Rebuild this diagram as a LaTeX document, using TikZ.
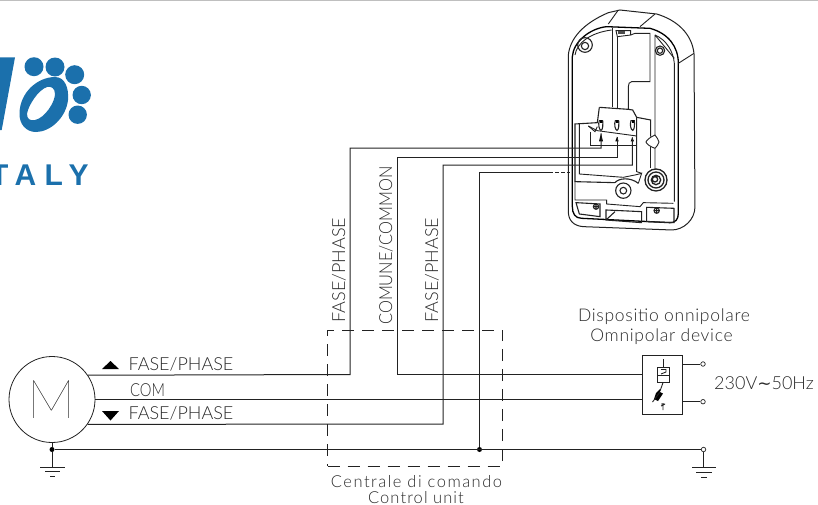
\documentclass[tikz,border=0pt]{standalone}
\usepackage{fontspec}
\setmainfont{Lato Light}
\newfontfamily\boldf{Liberation Sans Bold}
\newfontfamily\hairf{Lato Hairline}
\newfontfamily\symf{DejaVu Sans}
\definecolor{logob}{HTML}{1B70AC}
\definecolor{ink}{HTML}{222222}
\definecolor{txt}{HTML}{2A2A2A}
\tikzset{
 wire/.style={draw=ink,line width=1pt},
 dev/.style={draw=ink,line width=0.9pt},
 devthick/.style={draw=black,line width=1.3pt},
 cad/.style={text=txt,font=\fontsize{18}{18}\selectfont,inner sep=0pt},
 cadb/.style={text=txt,font=\fontsize{17.5}{17.5}\selectfont\addfontfeature{LetterSpace=4},inner sep=0pt},
 term/.style={circle,draw=ink,line width=0.7pt,fill=white,minimum size=4.5pt,inner sep=0pt},
 junction/.style={circle,fill=black,minimum size=5pt,inner sep=0pt},
 tri/.style={fill=black,draw=none}
}
\begin{document}
\begin{tikzpicture}[x=1pt,y=-1pt]
\useasboundingbox (0,0) rectangle (818,504);
\clip (0,0) rectangle (818,504);
\draw[draw=black!25,line width=1.2pt] (0,0.4) -- (818,0.4);
% logo
\fill[logob] (0,57.3) -- (15,57.3) -- (1.7,130) -- (0,130) -- cycle;
\fill[logob,even odd rule] (19.5,113) .. controls (20,92) and (38,77) .. (55,77) .. controls (65,77) and (69,88) .. (68,100) .. controls (66,118) and (50,132) .. (36,132) .. controls (26,132) and (19,124) .. (19.5,113) -- cycle
 (27,114) .. controls (27,119) and (30,121) .. (35,120) .. controls (45,118) and (55,102) .. (55,94) .. controls (55,88) and (51,86) .. (47,87) .. controls (38,90) and (28,106) .. (27,114) -- cycle;
\foreach \px/\py/\pr in {34/66.7/9.5,55/67/9.5,74.7/74.7/9.5,81.7/95/9.2,77.7/114.7/9.2}
  \fill[logob] (\px,\py) circle (\pr);
\node[text=logob,anchor=base west,inner sep=0pt,font=\boldf\fontsize{30}{30}\selectfont] (italy) at (-10,185) {\addfontfeature{LetterSpace=28}TALY};
% motor
\node[circle,draw=ink,line width=0.8pt,minimum size=86pt,inner sep=0pt,text=black,font=\hairf\fontsize{54}{54}\selectfont] (motor) at (52,399.5) {M};
\coordinate (gndm) at (52,449.5);
\node[junction] (jm) at (gndm) {};
\node[junction] (jc) at (479.5,449.5) {};
% dashed control unit
\node[draw=ink,line width=0.9pt,dash pattern=on 12pt off 8pt,minimum width=175pt,minimum height=136pt,inner sep=0pt] (unit) at (415,398) {};
\node[cad,anchor=base,font=\fontsize{16.5}{16.5}\selectfont\addfontfeature{LetterSpace=9}] (l1) at (416.5,487) {Centrale di comando};
\node[cad,anchor=base,font=\fontsize{16.5}{16.5}\selectfont\addfontfeature{LetterSpace=6.5}] (l2) at (416,503) {Control unit};
% omnipolar
\node[draw=ink,line width=0.9pt,minimum width=40pt,minimum height=59pt,inner sep=0pt] (omni) at (662,384.5) {};
\node[cadb] (l3) at (664,317) {Dispositio onnipolare};
\node[cadb] (l4) at (661.5,337) {Omnipolar device};
\node[term] (t1) at (703,364) {};
\node[term] (t2) at (703,401.7) {};
\node[term] (t3) at (703.5,449.5) {};
\node[cad,anchor=west] (vlt) at (714,383) {230V{\symf\fontsize{17}{17}\selectfont ∼}50Hz};
\draw[wire] (omni.east |- t1) -- (t1);
\draw[wire] (omni.east |- t2) -- (t2);
% breaker symbol
\draw[dev] (663,359) -- (663,368);
\draw[dev] (657,367.7) rectangle (669,382.7);
\draw[dev] (657,375) -- (669,375);
\draw[dev] (661,369.5) -- (666,369.5) -- (666,372) -- (661,374);
\draw[dev] (663,382.7) -- (660,391);
\fill[black] (656,393) -- (660,389) -- (660,392) -- (663,393.5) -- (658,401) -- (654,399) -- cycle;
\draw[dev] (652.5,402) -- (660,392);
\draw[dev] (663,403) -- (663,410) (661,404) -- (665,404) (661,406) -- (665,404);
% labels
\node[cad] (p1) at (181,364) {FASE/PHASE};
\node[cad,anchor=west,xscale=.82] (c0) at (130,390) {COM};
\node[cad] (p2) at (181,413.5) {FASE/PHASE};
\fill[tri] (102,369) -- (119,369) -- (110.5,361) -- cycle;
\fill[tri] (102,411) -- (119,411) -- (110.5,420.5) -- cycle;
\node[cad,rotate=90] (v1) at (339,270) {FASE/PHASE};
\node[cad,rotate=90,xscale=.91] (v2) at (386,245.5) {COMUNE/COMMON};
\node[cad,rotate=90] (v3) at (432,270) {FASE/PHASE};
% device (zoom coordinates)
\begin{scope}[shift={(540,0)},x=0.3333pt,y=-0.3333pt]
\coordinate (a1) at (183,400);
\coordinate (a2) at (231,412);
\coordinate (a3) at (277,412);
\coordinate (a4) at (90,518);
\draw[dev,line width=1pt] (85,165) .. controls (90,115) and (130,70) .. (205,38) -- (240,30) -- (350,42) .. controls (410,60) and (455,100) .. (462,160) -- (465,620) .. controls (465,660) and (430,690) .. (395,690) -- (130,680) .. controls (100,678) and (85,660) .. (85,635) -- cycle;
\draw[devthick] (97,170) .. controls (100,125) and (150,85) .. (200,80) -- (330,85) .. controls (385,100) and (415,140) .. (415,190) -- (415,640) .. controls (415,660) and (405,668) .. (390,668) -- (125,655) .. controls (105,655) and (97,640) .. (97,620) -- cycle;
\draw[dev] (105,165) .. controls (110,130) and (150,98) .. (215,90) (345,105) .. controls (380,120) and (400,155) .. (403,190) -- (403,605);
\draw[dev] (205,72) -- (235,30) (300,80) -- (345,42) (415,190) -- (462,160);
% bosses
\draw[dev,line width=1.1pt] (135,135) circle (22) (135,138) circle (11);
\draw[dev,line width=1.1pt] (360,152) circle (14) (360,152) circle (8);
\draw[dev] (345,105) -- (345,405) (345,445) -- (345,510) (345,105) -- (403,175);
\draw[dev] (345,405) .. controls (330,412) and (320,420) .. (318,426) .. controls (320,432) and (330,440) .. (345,445);
\draw[dev] (345,405) .. controls (350,412) and (356,420) .. (357,426) .. controls (356,432) and (350,440) .. (345,445);
% channel
\draw[dev] (218,85) -- (218,322) (232,110) -- (232,325);
\draw[dev] (232,110) -- (228,92) -- (272,92) -- (272,105) -- (232,110);
\fill[black!70] (234,94) rectangle (255,103);
\draw[dev] (272,105) -- (285,100) -- (330,100) -- (330,245) -- (275,245) .. controls (268,245) and (265,252) .. (265,260) -- (265,328);
% terminal block
\draw[dev,line width=1.1pt] (178,322) -- (265,328) -- (278,330) -- (290,352) -- (332,360) -- (332,410);
\draw[dev,line width=1.1pt] (178,322) -- (172,368) -- (105,372) -- (105,545) -- (225,548);
\draw[dev] (290,352) -- (290,515) -- (305,520);
\draw[dev] (332,442) -- (332,505);
\draw[dev] (118,372) -- (118,522) -- (250,532) -- (285,525) -- (305,520) -- (295,550);
\draw[dev] (145,378) -- (172,392) -- (290,408);
\draw[dev] (150,395) -- (150,435) -- (290,435);
\draw[dev] (145,378) -- (165,395) -- (172,380);
\foreach \sx in {183,231,278}
  \draw[dev,line width=1.1pt] (\sx-5,362) .. controls (\sx-9,372) and (\sx-6,390) .. (\sx,391) .. controls (\sx+6,390) and (\sx+6,372) .. (\sx+5,362) -- cycle;
\foreach \sx in {183,231,278} \fill[black] (\sx-3,360) rectangle (\sx+3,368);
% lower parts
\draw[dev,line width=1.1pt] (225,548) .. controls (235,535) and (270,530) .. (295,550);
\draw[dev] (105,545) -- (105,600) -- (200,600) -- (200,612) -- (300,620) -- (310,608) -- (400,610);
\draw[dev,line width=1.1pt] (250,572) circle (23) (250,572) circle (10);
\draw[dev,line width=1.3pt] (348,540) circle (33) (348,540) circle (24) (348,540) circle (14) (345,538) circle (8);
\draw[dev,line width=1.1pt] (108,608) -- (180,612) -- (180,650) -- (118,642) -- cycle;
\draw[dev,line width=1.1pt] (198,630) -- (305,635) -- (305,668) -- (198,660) -- cycle (198,660) -- (225,635);
\draw[dev,line width=1.1pt] (320,622) -- (402,625) -- (402,668) -- (320,665) -- cycle;
\draw[dev,line width=1.1pt] (168,620) circle (8) (160,620) -- (176,620) (168,612) -- (168,628);
\draw[dev,line width=1.1pt] (350,632) circle (8) (342,632) -- (358,632) (350,624) -- (350,640);
% arrows
\fill[black] (177,424) -- (189,424) -- (183,400) -- cycle;
\fill[black] (226,424) -- (236,424) -- (231,410) -- cycle;
\fill[black] (272,424) -- (282,424) -- (277,412) -- cycle;
\end{scope}
% wiring
\draw[wire] (motor.34.7) -- (350,374.5) -- (350,148) -| (a1);
\draw[wire] (motor.east) -- (omni.west |- 0,399.5);
\draw[wire] (omni.west |- 0,374.7) -- (397,374.7) -- (397,157) -| (a2);
\draw[wire] (motor.-35.5) -- (443,424) -- (443,165) -| (a3);
\draw[wire] (jc) -- (479.5,172.7) -- (549,172.7);
\draw[wire,dash pattern=on 3.5pt off 2.5pt] (549,172.7) -- (a4 |- 0,172.7);
\draw[wire] (motor.south) -- (jm);
\draw[wire] (jm) -- (t3);
% earth
\draw[wire] (jm) -- (52,467);
\draw[wire] (40,467) -- (65,467) (45,471.5) -- (60,471.5) (50,476) -- (55,476);
\draw[wire] (t3) -- (703.5,467.7);
\draw[wire] (692,467.7) -- (716,467.7) (696,472.5) -- (712,472.5) (701,477) -- (707,477);
\end{tikzpicture}
\end{document}
